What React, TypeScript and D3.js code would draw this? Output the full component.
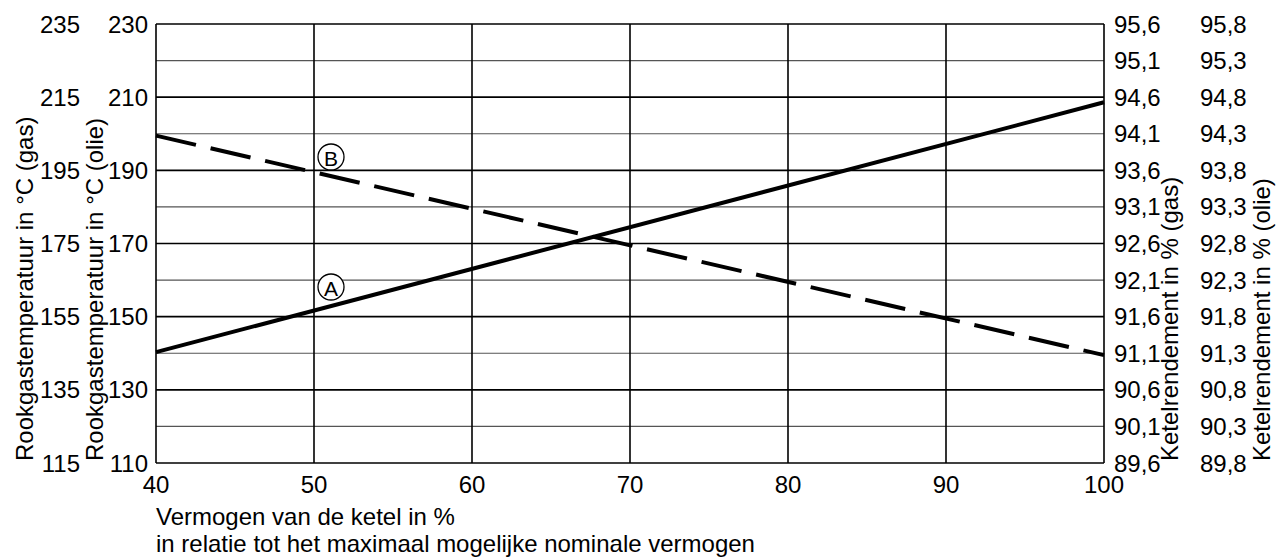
import React from "react";
import * as d3 from "d3";

// ---- data ----
const xTicks = [40, 50, 60, 70, 80, 90, 100];
const tempOlieTicks = [110, 130, 150, 170, 190, 210, 230];
const tempGasTicks = [115, 135, 155, 175, 195, 215, 235];
const effGasTicks = [89.6, 90.1, 90.6, 91.1, 91.6, 92.1, 92.6, 93.1, 93.6, 94.1, 94.6, 95.1, 95.6];
const effOlieTicks = [89.8, 90.3, 90.8, 91.3, 91.8, 92.3, 92.8, 93.3, 93.8, 94.3, 94.8, 95.3, 95.8];
// series, in °C (olie) units of the inner left axis
const loadPct = [40, 100];
const curveA = [140.3, 208.6];
const curveB = [199.5, 139.5];

const W = 1279;
const H = 559;
const L = 156, R = 1104, T = 24, B = 463;
const FONT = "'Liberation Sans', Arial, sans-serif";
const FS = 24;

export default function App() {
  const x = d3.scaleLinear().domain([40, 100]).range([L, R]);
  const yOlie = d3.scaleLinear().domain([110, 230]).range([B, T]);
  const yGas = d3.scaleLinear().domain([115, 235]).range([B, T]);
  const yEffGas = d3.scaleLinear().domain([89.6, 95.6]).range([B, T]);
  const yEffOlie = d3.scaleLinear().domain([89.8, 95.8]).range([B, T]);
  const fmt = (v: number) => v.toFixed(1).replace(".", ",");

  const line = d3
    .line<[number, number]>()
    .x((d) => x(d[0]))
    .y((d) => yOlie(d[1]));
  const dataA = loadPct.map((p, i) => [p, curveA[i]] as [number, number]);
  const dataB = loadPct.map((p, i) => [p, curveB[i]] as [number, number]);

  const markerA = { x: 331, y: 287 };
  const markerB = { x: 331, y: 157 };

  return (
    <svg
      width={W}
      height={H}
      style={{ position: "absolute", left: 0, top: 0, background: "#fff" }}
      fontFamily={FONT}
    >
      <rect x={0} y={0} width={W} height={H} fill="#fff" />
      {/* horizontal grid */}
      {effGasTicks.map((v, i) => (
        <line
          key={"h" + i}
          x1={L}
          x2={R}
          y1={yEffGas(v)}
          y2={yEffGas(v)}
          stroke={i % 2 === 0 ? "#000" : "#555"}
          strokeWidth={i % 2 === 0 ? 1.6 : 1.2}
        />
      ))}
      {/* vertical grid */}
      {xTicks.map((v) => (
        <line key={"v" + v} x1={x(v)} x2={x(v)} y1={T} y2={B} stroke="#000" strokeWidth={1.6} />
      ))}
      {/* curves */}
      <path d={line(dataA) || ""} fill="none" stroke="#000" strokeWidth={4} />
      <path d={line(dataB) || ""} fill="none" stroke="#000" strokeWidth={4} strokeDasharray="41 15" />
      {/* markers */}
      {[
        { p: markerA, t: "A" },
        { p: markerB, t: "B" },
      ].map((m) => (
        <g key={m.t}>
          <circle cx={m.p.x} cy={m.p.y} r={13} fill="#fff" stroke="#000" strokeWidth={1.3} />
          <text x={m.p.x} y={m.p.y + 1} textAnchor="middle" dominantBaseline="central" fontSize={21}>
            {m.t}
          </text>
        </g>
      ))}
      {/* left tick labels */}
      {tempOlieTicks.map((v) => (
        <text key={"lo" + v} x={148} y={yOlie(v)} textAnchor="end" dominantBaseline="central" fontSize={FS}>
          {v}
        </text>
      ))}
      {tempGasTicks.map((v) => (
        <text key={"lg" + v} x={80} y={yGas(v)} textAnchor="end" dominantBaseline="central" fontSize={FS}>
          {v}
        </text>
      ))}
      {/* right tick labels */}
      {effGasTicks.map((v) => (
        <text key={"rg" + v} x={1114} y={yEffGas(v)} textAnchor="start" dominantBaseline="central" fontSize={FS}>
          {fmt(v)}
        </text>
      ))}
      {effOlieTicks.map((v) => (
        <text key={"ro" + v} x={1200} y={yEffOlie(v)} textAnchor="start" dominantBaseline="central" fontSize={FS}>
          {fmt(v)}
        </text>
      ))}
      {/* x tick labels */}
      {xTicks.map((v) => (
        <text key={"x" + v} x={x(v)} y={493} textAnchor="middle" fontSize={FS}>
          {v}
        </text>
      ))}
      {/* axis titles */}
      <text x={L} y={525} fontSize={FS}>
        Vermogen van de ketel in %
      </text>
      <text x={L} y={552} fontSize={FS}>
        in relatie tot het maximaal mogelijke nominale vermogen
      </text>
      <text transform="translate(33,461) rotate(-90)" fontSize={FS}>
        Rookgastemperatuur in °C (gas)
      </text>
      <text transform="translate(103,461) rotate(-90)" fontSize={FS}>
        Rookgastemperatuur in °C (olie)
      </text>
      <text transform="translate(1178,461) rotate(-90)" fontSize={FS}>
        Ketelrendement in % (gas)
      </text>
      <text transform="translate(1270,461) rotate(-90)" fontSize={FS}>
        Ketelrendement in % (olie)
      </text>
    </svg>
  );
}
